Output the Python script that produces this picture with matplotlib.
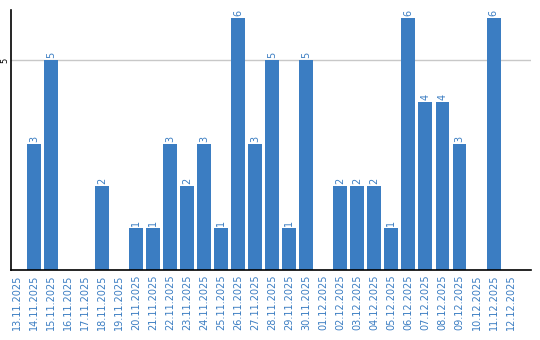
import matplotlib
matplotlib.use("Agg")
import matplotlib.pyplot as plt
import numpy as np

dates = ["13.11.2025", "14.11.2025", "15.11.2025", "16.11.2025", "17.11.2025",
         "18.11.2025", "19.11.2025", "20.11.2025", "21.11.2025", "22.11.2025",
         "23.11.2025", "24.11.2025", "25.11.2025", "26.11.2025", "27.11.2025",
         "28.11.2025", "29.11.2025", "30.11.2025", "01.12.2025", "02.12.2025",
         "03.12.2025", "04.12.2025", "05.12.2025", "06.12.2025", "07.12.2025",
         "08.12.2025", "09.12.2025", "10.12.2025", "11.12.2025", "12.12.2025"]
counts = [0, 3, 5, 0, 0, 2, 0, 1, 1, 3, 2, 3, 1, 6, 3, 5, 1, 5, 0, 2,
          2, 2, 1, 6, 4, 4, 3, 0, 6, 0]

bar_color = "#3b7dc2"
label_color = "#3b7dc2"

fig = plt.figure(figsize=(5.4, 3.4), dpi=100)
ax = fig.add_axes([11 / 540, 70 / 340, 520 / 540, 260 / 340])

x = np.arange(len(dates))
ax.bar(x, counts, width=0.82, color=bar_color, zorder=2)

# value labels above bars (rotated like the original)
for xi, c in zip(x, counts):
    if c > 0:
        ax.text(xi, c + 0.05, str(c), rotation=90, ha="center", va="bottom",
                fontsize=7, color=label_color)

ax.set_xlim(-0.35, 30.2)
ax.set_ylim(0, 6.2)
ax.set_xticks(x)
ax.set_xticklabels(dates, rotation=90, fontsize=7, color=label_color)
ax.set_yticks([5])
ax.set_yticklabels(["5"], rotation=90, fontsize=6, va="center")
ax.tick_params(axis="x", length=0, pad=3)
ax.tick_params(axis="y", length=0, pad=1)
ax.yaxis.grid(True, color="#c8c8c8", linewidth=1, zorder=0)

for side in ["top", "right"]:
    ax.spines[side].set_visible(False)
for side in ["left", "bottom"]:
    ax.spines[side].set_color("black")
    ax.spines[side].set_linewidth(1.2)

fig.savefig("out.png", dpi=100)
